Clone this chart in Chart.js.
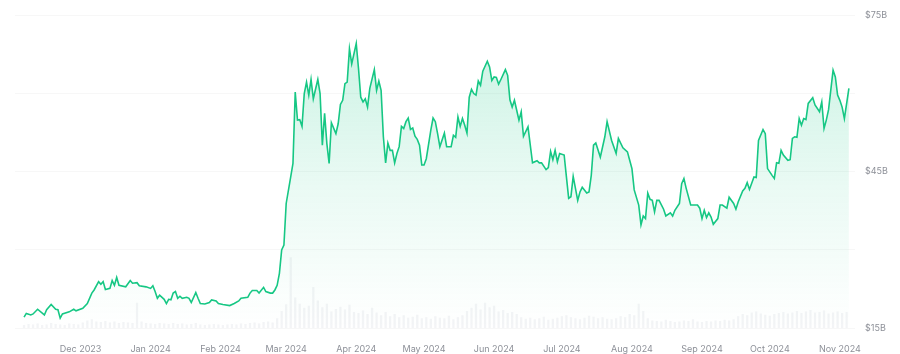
<!DOCTYPE html>
<html>
<head>
<meta charset="utf-8">
<script src="https://cdn.jsdelivr.net/npm/chart.js@4/dist/chart.umd.min.js"></script>
<style>
  html, body { margin: 0; padding: 0; background: #fff; }
  #wrap { width: 900px; height: 354px; }
</style>
</head>
<body>
<div id="wrap"><canvas id="cap-chart" width="900" height="354"></canvas></div>
<script>
// Market cap ($B) over ~1 year, day 0 = 6 Nov 2023
const days = [
  0, 1, 3, 4, 6, 9, 10, 12, 14, 15, 16, 17, 20, 22, 23, 26, 28, 30, 31, 33,
  34, 35, 36, 38, 39, 40, 41, 42, 45, 47, 48, 50, 51, 54, 56, 57, 58, 59, 60, 62,
  63, 64, 65, 66, 67, 68, 69, 70, 72, 73, 74, 76, 77, 78, 80, 82, 83, 85, 86, 88,
  91, 93, 95, 96, 99, 100, 101, 103, 104, 106, 107, 109, 110, 111, 112, 113, 114, 115, 116, 118,
  119, 120, 121, 122, 123, 124, 125, 126, 127, 128, 130, 131, 132, 133, 134, 135, 136, 138, 139, 140,
  141, 142, 143, 144, 145, 147, 148, 149, 150, 151, 152, 153, 155, 156, 157, 158, 159, 160, 161, 162,
  163, 164, 165, 166, 167, 168, 169, 170, 171, 172, 173, 174, 175, 176, 177, 178, 180, 181, 182, 183,
  184, 186, 187, 189, 190, 191, 192, 193, 194, 195, 196, 197, 198, 199, 200, 201, 202, 203, 205, 206,
  207, 208, 209, 210, 211, 213, 214, 215, 216, 217, 218, 219, 220, 221, 223, 225, 227, 228, 229, 231,
  232, 233, 234, 235, 236, 237, 239, 240, 241, 242, 243, 245, 246, 247, 249, 250, 251, 252, 253, 255,
  257, 258, 260, 262, 263, 265, 267, 268, 269, 270, 272, 273, 274, 275, 276, 277, 278, 279, 280, 281,
  283, 284, 286, 287, 288, 290, 291, 292, 293, 295, 296, 298, 299, 300, 301, 302, 303, 304, 305, 307,
  308, 309, 311, 312, 314, 315, 316, 318, 319, 320, 321, 323, 324, 325, 327, 328, 329, 331, 332, 333,
  334, 335, 336, 338, 339, 340, 341, 342, 343, 344, 345, 346, 347, 349, 350, 352, 353, 354, 355, 356,
  358, 359, 360, 361, 362, 363, 365
];
const marketCap = [
  17.1, 17.8, 17.5, 17.7, 18.6, 17.5, 18.5, 19.5, 18.6, 18.5, 16.9, 17.7, 18.1, 18.6, 18.3, 18.8, 19.7, 21.7, 22.3, 23.9,
  23.4, 23.9, 22.4, 22.6, 24.1, 23.2, 24.7, 23.2, 22.9, 24.1, 23.6, 23.7, 23.1, 22.9, 22.6, 23.1, 22.0, 20.7, 21.3, 20.5,
  19.7, 20.5, 20.4, 21.7, 22.0, 20.7, 21.1, 20.7, 20.9, 20.7, 19.9, 21.8, 20.7, 19.7, 19.6, 19.9, 20.4, 20.2, 19.7, 19.5,
  19.3, 19.7, 20.2, 20.7, 20.9, 21.7, 22.2, 22.2, 21.7, 22.8, 22.0, 21.7, 21.7, 22.3, 23.2, 25.5, 30.0, 30.9, 38.9, 44.0,
  46.6, 60.3, 54.9, 55.0, 53.7, 60.0, 62.2, 59.7, 62.7, 59.0, 62.7, 60.0, 50.1, 56.2, 50.4, 46.6, 54.4, 52.3, 54.2, 57.9,
  58.7, 61.9, 62.2, 68.6, 65.7, 69.6, 64.8, 59.3, 58.4, 59.0, 57.4, 61.0, 64.6, 60.6, 62.4, 60.6, 51.7, 46.7, 50.5, 49.1,
  49.1, 46.7, 48.5, 49.8, 53.7, 53.3, 54.6, 55.3, 53.1, 53.4, 51.8, 51.2, 50.1, 46.3, 46.3, 47.5, 53.0, 55.3, 54.6, 52.3,
  49.8, 52.4, 49.8, 49.8, 52.0, 51.6, 55.5, 53.7, 55.2, 53.9, 52.4, 59.3, 60.8, 60.0, 59.7, 62.4, 61.6, 64.3, 66.2, 65.1,
  62.5, 63.2, 63.1, 61.8, 62.7, 64.6, 63.5, 58.8, 57.4, 58.7, 56.8, 54.9, 56.5, 51.8, 53.6, 46.7, 47.1, 46.7, 46.7, 45.4,
  45.8, 48.9, 47.3, 49.1, 46.9, 48.5, 48.2, 44.0, 39.9, 40.2, 44.1, 39.5, 41.1, 42.0, 40.9, 41.1, 44.3, 50.1, 50.5, 47.8,
  51.7, 54.6, 51.0, 48.5, 51.4, 49.6, 48.8, 47.2, 45.6, 41.5, 38.6, 34.8, 36.5, 36.0, 40.9, 39.7, 39.5, 37.3, 39.5, 39.5,
  37.8, 36.5, 37.1, 36.5, 37.6, 38.9, 42.7, 43.7, 41.8, 38.6, 38.6, 38.6, 38.0, 36.0, 37.6, 36.2, 37.1, 36.3, 34.9, 36.0,
  38.6, 38.6, 38.0, 40.1, 38.9, 37.8, 39.2, 41.3, 41.8, 42.9, 41.6, 44.0, 43.9, 51.0, 53.1, 52.3, 45.6, 44.3, 43.7, 46.7,
  46.6, 49.1, 48.2, 47.2, 47.3, 51.4, 51.7, 51.6, 55.2, 53.9, 55.2, 55.0, 58.1, 59.2, 57.8, 56.5, 58.4, 53.3, 54.9, 56.9,
  64.5, 63.2, 59.7, 58.7, 57.4, 55.2, 61.0
];

// Volume ($B), one bar every 2 days from day 0
const volStep = 2;
const volume = [
  0.5, 0.7, 0.6, 0.8, 0.5, 0.6, 0.9, 0.7, 0.6, 0.5, 0.8, 0.7, 0.6,
  1.0, 1.4, 1.6, 1.2, 1.1, 1.3, 1.0, 1.2, 0.9, 1.1, 1.0, 0.9,
  4.8, 1.2, 0.9, 0.8, 0.7, 0.9, 0.8, 0.7, 0.9,
  0.7, 0.8, 0.6, 0.7, 0.9, 0.6, 0.5, 0.6, 0.7, 0.6, 0.5, 0.6, 0.7, 0.6, 0.8, 0.7, 0.9, 1.0, 0.8, 1.1, 1.2, 1.0,
  1.8, 3.2, 4.5, 13.5, 5.8, 4.6,
  3.8, 4.2, 7.8, 5.2, 3.9, 4.6, 3.1, 3.6, 4.0,
  3.5, 4.4, 3.0, 2.8, 3.3, 2.6, 3.8, 2.9, 2.4, 3.0,
  2.2, 2.6, 2.0, 2.4, 1.9, 2.1, 2.5, 1.8, 2.0, 1.7, 2.2, 1.9, 1.8, 2.3, 1.6, 2.0, 2.4, 3.2,
  3.8, 4.6, 3.5, 4.8, 3.9, 4.2, 3.1, 3.4, 2.8, 3.0, 2.6,
  2.0, 1.7, 1.9, 1.6, 1.8, 2.1, 1.5, 1.7, 1.9, 2.2, 2.4, 2.0, 1.8, 1.6, 1.9, 2.3, 2.1, 1.8, 2.0, 1.7, 1.6, 1.8, 2.2, 2.0, 2.6, 2.4,
  4.6, 3.2,
  1.8, 1.4, 1.3, 1.2, 1.5, 1.3, 1.1, 1.2, 1.4, 1.3, 1.6, 1.2, 1.1, 1.3, 1.2, 1.4, 1.3, 1.5, 1.4, 1.6,
  2.2, 2.6, 2.4, 2.9, 3.1, 2.7, 2.5, 2.3, 2.6, 2.8, 3.0, 2.7, 2.9, 3.2, 2.8, 3.1, 3.4, 2.9, 3.0, 3.3, 2.7, 2.9, 3.1, 2.8, 3.0
];

// month starts (day index) and their labels
const monthTicks = [25, 56, 87, 116, 147, 177, 208, 238, 269, 300, 330, 361];
const monthLabels = ['Dec 2023', 'Jan 2024', 'Feb 2024', 'Mar 2024', 'Apr 2024', 'May 2024',
  'Jun 2024', 'Jul 2024', 'Aug 2024', 'Sep 2024', 'Oct 2024', 'Nov 2024'];

const yTicks = [15, 30, 45, 60, 75];
const yLabels = { 15: '$15B', 45: '$45B', 75: '$75B' };

const GREEN = '#16c784';

function fillGradient(ctx) {
  const { chart } = ctx;
  const area = chart.chartArea;
  if (!area) return 'rgba(22,199,132,0.1)';
  const g = chart.ctx.createLinearGradient(0, area.top, 0, area.bottom);
  g.addColorStop(0, 'rgba(22,199,132,0.24)');
  g.addColorStop(0.55, 'rgba(22,199,132,0.09)');
  g.addColorStop(1, 'rgba(22,199,132,0)');
  return g;
}

const tickFont = { family: 'Inter, "Open Sans", sans-serif', size: 9 };

new Chart(document.getElementById('cap-chart').getContext('2d'), {
  type: 'line',
  data: {
    datasets: [
      {
        label: 'Market Cap',
        data: days.map((d, i) => ({ x: d, y: marketCap[i] })),
        borderColor: GREEN,
        borderWidth: 1.6,
        backgroundColor: fillGradient,
        fill: 'start',
        tension: 0,
        pointRadius: 0,
        order: 0,
        yAxisID: 'y'
      },
      {
        type: 'bar',
        label: 'Volume',
        data: volume.map((v, i) => ({ x: i * volStep, y: v })),
        backgroundColor: 'rgba(170,176,190,0.14)',
        barThickness: 1.6,
        order: 1,
        yAxisID: 'yv'
      }
    ]
  },
  options: {
    responsive: false,
    animation: false,
    layout: { padding: { left: 15, top: 15, right: 0, bottom: 0 } },
    plugins: { legend: { display: false }, tooltip: { enabled: false } },
    scales: {
      x: {
        type: 'linear',
        min: -4,
        max: 367.7,
        offset: false,
        grid: { display: false, offset: false },
        border: { display: false },
        afterBuildTicks: (s) => { s.ticks = monthTicks.map((v) => ({ value: v })); },
        afterFit: (s) => { s.height = 26; },
        ticks: {
          autoSkip: false,
          maxRotation: 0,
          padding: 8,
          color: '#8d9098',
          font: tickFont,
          callback: (v) => monthLabels[monthTicks.indexOf(v)] || ''
        }
      },
      y: {
        position: 'right',
        min: 15,
        max: 75,
        grid: { color: 'rgba(0,0,0,0.03)', drawTicks: false },
        border: { display: false },
        afterBuildTicks: (s) => { s.ticks = yTicks.map((v) => ({ value: v })); },
        afterFit: (s) => { s.width = 45; },
        ticks: {
          padding: 10,
          color: '#8d9098',
          font: tickFont,
          callback: (v) => yLabels[v] || ''
        }
      },
      yv: {
        display: false,
        min: 0,
        max: 60
      }
    }
  }
});
</script>
</body>
</html>
